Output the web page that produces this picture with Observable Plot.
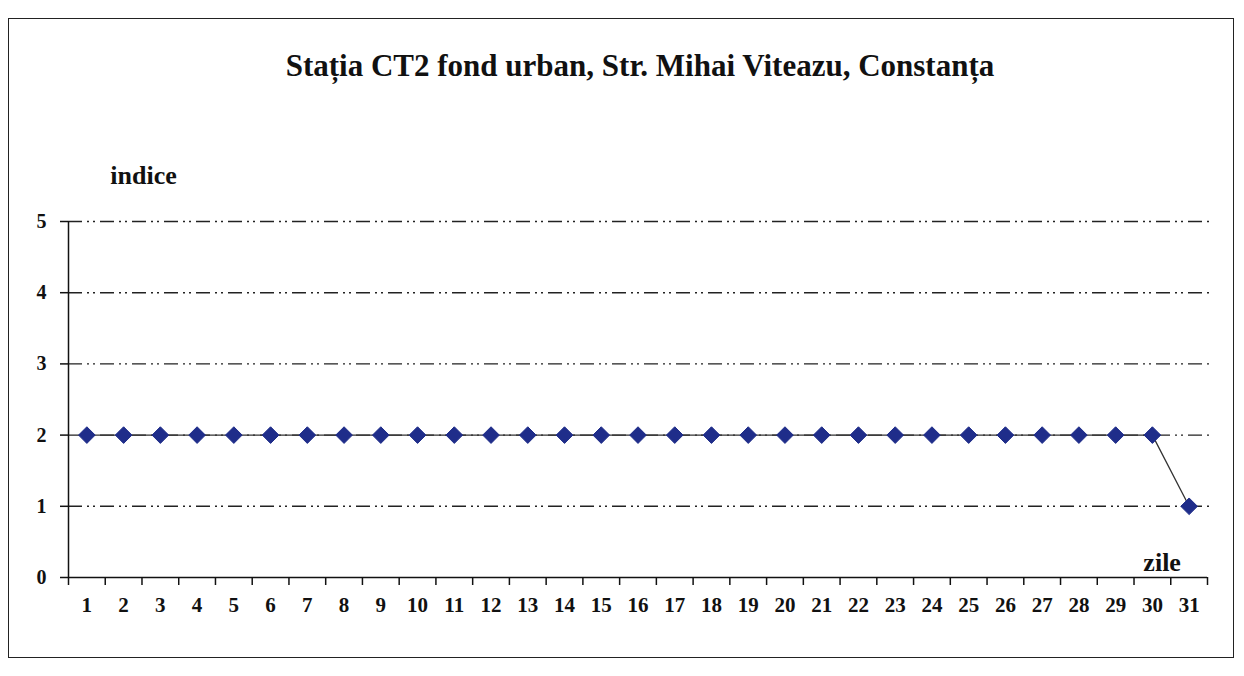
<!DOCTYPE html>
<html>
<head>
<meta charset="utf-8">
<script src="https://cdn.jsdelivr.net/npm/d3@7"></script>
<script src="https://cdn.jsdelivr.net/npm/@observablehq/plot@0.6"></script>
<style>
  html, body { margin: 0; padding: 0; background: #fff; }
  #wrap { position: relative; width: 1244px; height: 676px; overflow: hidden; }
  #frame { position: absolute; left: 8px; top: 18px; width: 1226px; height: 640px; border: 1.5px solid #222; box-sizing: border-box; }
  #title { position: absolute; left: 0; width: 1280px; top: 48px; text-align: center;
           font-family: "Liberation Serif", "Times New Roman", serif; font-weight: bold; font-size: 31px; color: #111; }
  #chart { position: absolute; left: 0; top: 0; }
</style>
</head>
<body>
<div id="wrap">
  <div id="frame"></div>
  <div id="title">Stația CT2 fond urban, Str. Mihai Viteazu, Constanța</div>
  <div id="chart"></div>
</div>
<script>
const days = Array.from({length: 31}, (_, i) => i + 1);
const indice = [2,2,2,2,2,2,2,2,2,2,2,2,2,2,2,2,2,2,2,2,2,2,2,2,2,2,2,2,2,2,1];
const yTicks = [0, 1, 2, 3, 4, 5];
const gridLevels = [1, 3, 4, 5, 2];
const yLabel = "indice";
const xLabel = "zile";

const data = days.map((d, i) => ({day: d, value: indice[i]}));
const boundaries = days.map(d => d - 0.5).concat([31.5]);
const font = "Liberation Serif, Times New Roman, serif";

const chart = Plot.plot({
  width: 1244,
  height: 676,
  marginLeft: 68,
  marginRight: 37,
  marginTop: 221,
  marginBottom: 99,
  style: {fontFamily: font, fontSize: "20px", fontWeight: "bold", color: "#111", background: "transparent", overflow: "visible"},
  x: {type: "linear", domain: [0.5, 31.5]},
  y: {domain: [0, 5]},
  marks: [
    Plot.ruleY(gridLevels, {y: d => d, x1: 0.5, x2: 31.6, stroke: "#222", strokeWidth: 1.4, strokeDasharray: "14,5,2,4,2,5"}),
    Plot.axisY({ticks: yTicks, tickSize: 8, tickPadding: 14, tickFormat: d => d, fontSize: 20, fontWeight: "bold", stroke: "#111", strokeWidth: 1.5, label: null}),
    Plot.ruleX([0.5], {y1: 0, y2: 5, stroke: "#111", strokeWidth: 1.5}),
    Plot.ruleY([0], {x1: 0.5, x2: 31.5, stroke: "#111", strokeWidth: 1.5}),
    Plot.axisX({ticks: boundaries, tickSize: 8, tickFormat: () => "", stroke: "#111", strokeWidth: 1.5, label: null}),
    Plot.axisX({ticks: days, tickSize: 0, tickPadding: 20, tickFormat: d => d, fontSize: 21, fontWeight: "bold", label: null}),
    Plot.line(data, {x: "day", y: "value", stroke: "#333", strokeWidth: 1.3}),
    Plot.dot(data, {x: "day", y: "value", symbol: "diamond2", r: 7.5, fill: "#1f2d8a", stroke: "#1f2d8a", strokeWidth: 1}),
    Plot.text([yLabel], {x: 0.5, y: 5, dx: 75, dy: -46, text: d => d, fontSize: 26, fontWeight: "bold", fill: "#111"}),
    Plot.text([xLabel], {x: 31, y: 0, dx: -27, dy: -15, text: d => d, fontSize: 26, fontWeight: "bold", fill: "#111"})
  ]
});
document.getElementById("chart").appendChild(chart);
</script>
</body>
</html>
